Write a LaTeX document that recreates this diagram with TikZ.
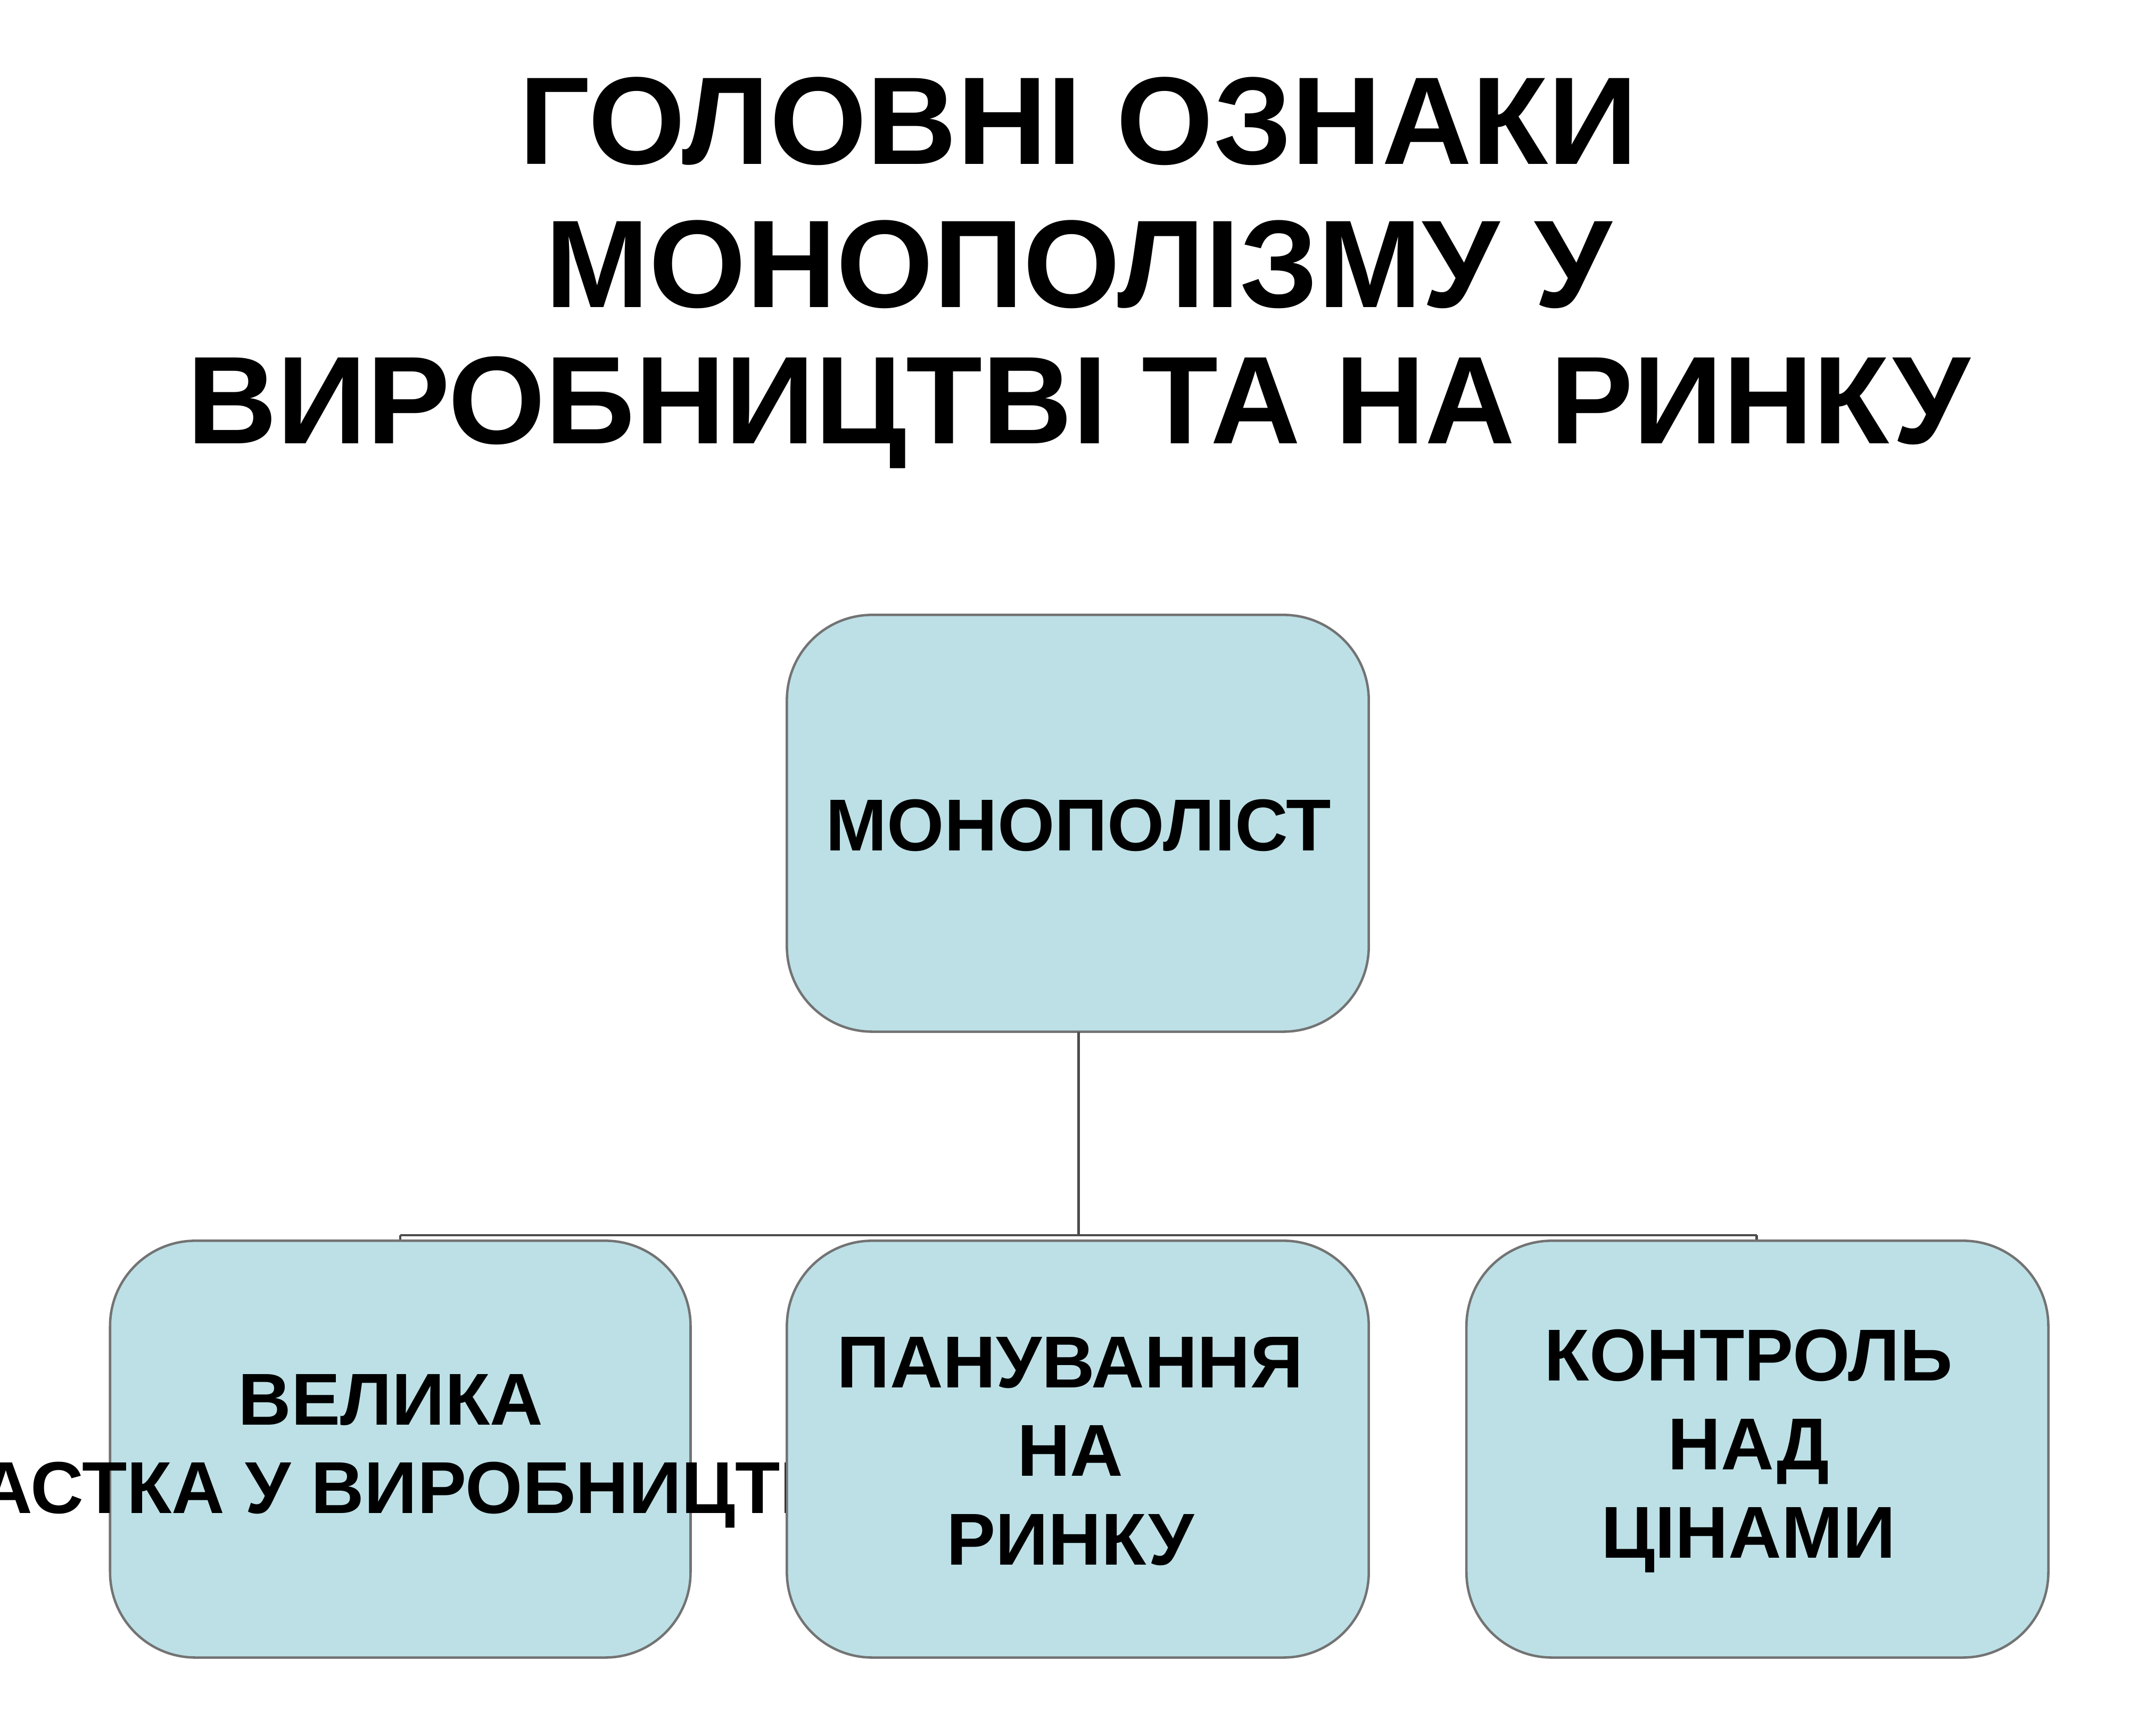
\documentclass[tikz,border=0pt]{standalone}
\usepackage{fontspec}
\setmainfont{Liberation Sans}
\begin{document}
\begin{tikzpicture}[x=0.01cm,y=-0.01cm,
  box/.style={draw=black!55,line width=0.5pt,fill=boxblue,rounded corners=0.62cm},
  btxt/.style={font=\fontsize{15.2}{18.3}\selectfont\bfseries,align=center},
  ttl/.style={font=\fontsize{25.8}{31}\selectfont\bfseries,align=center},
  conn/.style={draw=black!70,line width=0.5pt}]
\definecolor{boxblue}{HTML}{BCE0E6}
\useasboundingbox (0,0) rectangle (1560,1262);
\node[ttl] (t1) at (784,88) {ГОЛОВНІ ОЗНАКИ};
\node[ttl] (t2) at (784,192) {МОНОПОЛІЗМУ У};
\node[ttl] (t3) at (784,300) {ВИРОБНИЦТВІ ТА НА РИНКУ};
\draw[box] (572,447) rectangle (995,750);
\node[btxt] (top) at (784,600) {МОНОПОЛІСТ};
\coordinate (tb) at (784,750);
\coordinate (j) at (784,898);
\coordinate (jl) at (291,898);
\coordinate (jr) at (1277,898);
\coordinate (bl) at (291,902);
\coordinate (bm) at (784,902);
\coordinate (br) at (1277,902);
\draw[conn] (tb) -- (j);
\draw[conn] (jl) -- (jr);
\draw[conn] (jl) -- (bl);
\draw[conn] (jr) -- (br);
\draw[box] (80,902) rectangle (502,1205);
\node[btxt] (l) at (284,1055) {ВЕЛИКА\\ЧАСТКА У ВИРОБНИЦТВІ};
\draw[box] (572,902) rectangle (995,1205);
\node[btxt] (m) at (778,1055) {ПАНУВАННЯ\\НА\\РИНКУ};
\draw[box] (1066,902) rectangle (1489,1205);
\node[btxt] (r) at (1271,1055) {КОНТРОЛЬ\\НАД\\ЦІНАМИ};
\end{tikzpicture}
\end{document}
